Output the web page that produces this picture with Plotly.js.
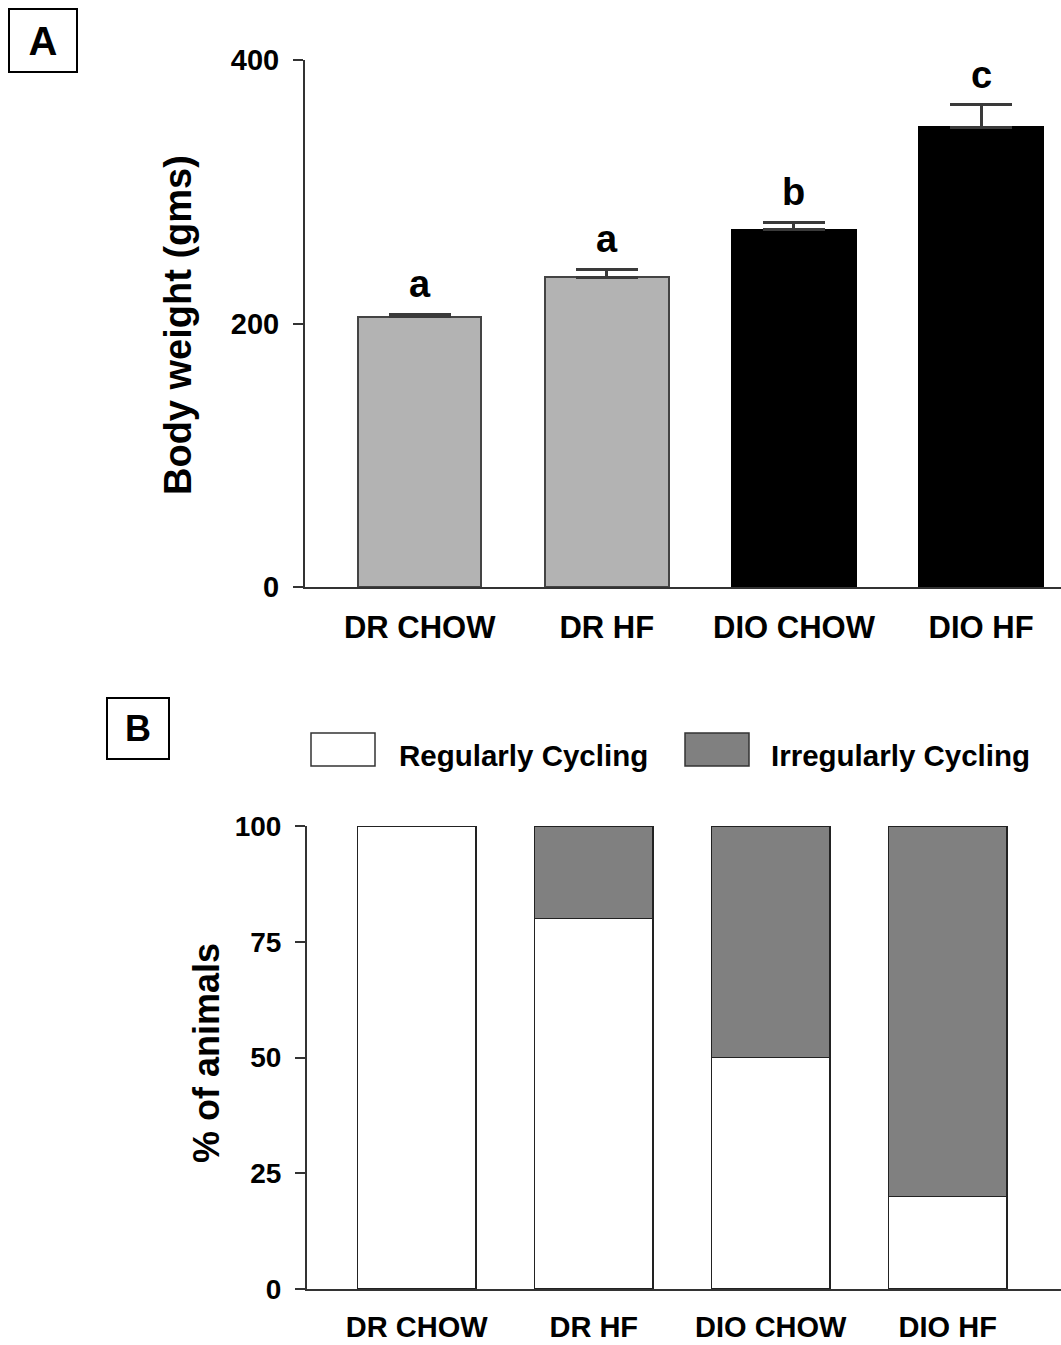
<!DOCTYPE html>
<html>
<head>
<meta charset="utf-8">
<script src="https://cdn.plot.ly/plotly-3.0.1.min.js"></script>
<style>html,body{margin:0;padding:0;background:#fff;}#chart{width:1061px;height:1345px;}</style>
</head>
<body>
<div id="chart"></div>
<script>
// ---- Data ----
const groups = ["DR CHOW", "DR HF", "DIO CHOW", "DIO HF"];
const bodyWeight = [205, 235, 271, 349];
const bodyWeightSEM = [2, 6, 6, 17];
const sigLetters = ["a", "a", "b", "c"];
const barColorsA = ["#b3b3b3", "#b3b3b3", "#000000", "#000000"];
const regularlyCycling = [100, 80, 50, 20];
const irregularlyCycling = [0, 20, 50, 80];
const weightTicks = [0, 200, 400];
const percentTicks = [0, 25, 50, 75, 100];

const W = 1061, H = 1345;
const px = v => v / W;
const py = v => 1 - v / H;
const FONT = "Liberation Sans, Arial, sans-serif";

const traces = [
  {
    type: "bar", x: groups, y: bodyWeight, xaxis: "x", yaxis: "y",
    width: 0.66,
    marker: { color: barColorsA, line: { color: ["#444", "#444", "#000", "#000"], width: 2 } },
    error_y: { type: "data", symmetric: false, array: bodyWeightSEM,
               arrayminus: bodyWeightSEM.map(() => 0), color: "#3a3a3a", thickness: 3, width: 31 },
    showlegend: false, hoverinfo: "x+y"
  },
  {
    type: "bar", name: "Regularly Cycling", x: groups, y: regularlyCycling, xaxis: "x2", yaxis: "y2",
    width: 0.667, marker: { color: "#ffffff", line: { color: "#222", width: 1.5 } }, showlegend: false
  },
  {
    type: "bar", name: "Irregularly Cycling", x: groups, y: irregularlyCycling, xaxis: "x2", yaxis: "y2",
    width: 0.667, marker: { color: "#808080", line: { color: "#222", width: 1.5 } }, showlegend: false
  }
];

const annotations = [];
groups.forEach((g, i) => {
  annotations.push({
    xref: "x", yref: "y", x: g, y: bodyWeight[i] + bodyWeightSEM[i],
    text: sigLetters[i], showarrow: false, yanchor: "bottom", yshift: 7,
    font: { family: FONT, size: 38, weight: "bold", color: "#000" }
  });
});
// axis titles
annotations.push({
  xref: "paper", yref: "paper", x: px(178), y: py(325), text: "Body weight (gms)",
  textangle: -90, showarrow: false, xanchor: "center", yanchor: "middle",
  font: { family: FONT, size: 38, weight: "bold", color: "#000" }
});
annotations.push({
  xref: "paper", yref: "paper", x: px(206), y: py(1053), text: "% of animals",
  textangle: -90, showarrow: false, xanchor: "center", yanchor: "middle",
  font: { family: FONT, size: 36, weight: "bold", color: "#000" }
});
// panel labels
annotations.push({
  xref: "paper", yref: "paper", x: px(43), y: py(40.5), text: "A", showarrow: false,
  width: 66, height: 61, borderpad: 0, bordercolor: "#000", borderwidth: 2, bgcolor: "#fff",
  xanchor: "center", yanchor: "middle",
  font: { family: FONT, size: 40, weight: "bold", color: "#000" }
});
annotations.push({
  xref: "paper", yref: "paper", x: px(138), y: py(728.5), text: "B", showarrow: false,
  width: 60, height: 59, borderpad: 0, bordercolor: "#000", borderwidth: 2, bgcolor: "#fff",
  xanchor: "center", yanchor: "middle",
  font: { family: FONT, size: 36, weight: "bold", color: "#000" }
});
// legend texts
annotations.push({
  xref: "paper", yref: "paper", x: px(397), y: py(756), text: "Regularly Cycling", showarrow: false,
  xanchor: "left", yanchor: "middle", font: { family: FONT, size: 29.5, weight: "bold", color: "#000" }
});
annotations.push({
  xref: "paper", yref: "paper", x: px(769), y: py(756), text: "Irregularly Cycling", showarrow: false,
  xanchor: "left", yanchor: "middle", font: { family: FONT, size: 29.5, weight: "bold", color: "#000" }
});

const shapes = [
  { type: "rect", xref: "paper", yref: "paper", x0: px(311), x1: px(375), y0: py(766), y1: py(733),
    fillcolor: "#ffffff", line: { color: "#333", width: 1.5 } },
  { type: "rect", xref: "paper", yref: "paper", x0: px(685), x1: px(749), y0: py(766), y1: py(733),
    fillcolor: "#808080", line: { color: "#333", width: 1.5 } }
];

const axisLine = { showline: true, linecolor: "#333", linewidth: 2, zeroline: false, showgrid: false };

const layout = {
  width: W, height: H,
  margin: { l: 0, r: 0, t: 0, b: 0 },
  paper_bgcolor: "#fff", plot_bgcolor: "#fff",
  barmode: "stack", showlegend: false,
  font: { family: FONT, color: "#000" },
  xaxis: Object.assign({}, axisLine, {
    domain: [px(305), 1], range: [-0.613, 3.427], anchor: "y",
    ticks: "", ticklabelstandoff: 12,
    tickfont: { family: FONT, size: 31, weight: "bold", color: "#000" }
  }),
  yaxis: Object.assign({}, axisLine, {
    domain: [py(587), py(60)], range: [0, 400], anchor: "x",
    tickmode: "array", tickvals: weightTicks, ticktext: weightTicks.map(String),
    ticks: "outside", ticklen: 10, tickwidth: 2, tickcolor: "#333", ticklabelstandoff: 8,
    tickfont: { family: FONT, size: 29, weight: "bold", color: "#000" }
  }),
  xaxis2: Object.assign({}, axisLine, {
    domain: [px(307), 1], range: [-0.62, 3.64], anchor: "y2",
    ticks: "", ticklabelstandoff: 11,
    tickfont: { family: FONT, size: 29, weight: "bold", color: "#000" }
  }),
  yaxis2: Object.assign({}, axisLine, {
    domain: [py(1289), py(826)], range: [0, 100], anchor: "x2",
    tickmode: "array", tickvals: percentTicks, ticktext: percentTicks.map(String),
    ticks: "outside", ticklen: 10, tickwidth: 2, tickcolor: "#333", ticklabelstandoff: 8,
    tickfont: { family: FONT, size: 28, weight: "bold", color: "#000" }
  }),
  annotations: annotations,
  shapes: shapes
};

Plotly.newPlot("chart", traces, layout, { displayModeBar: false, staticPlot: true });
</script>
</body>
</html>
